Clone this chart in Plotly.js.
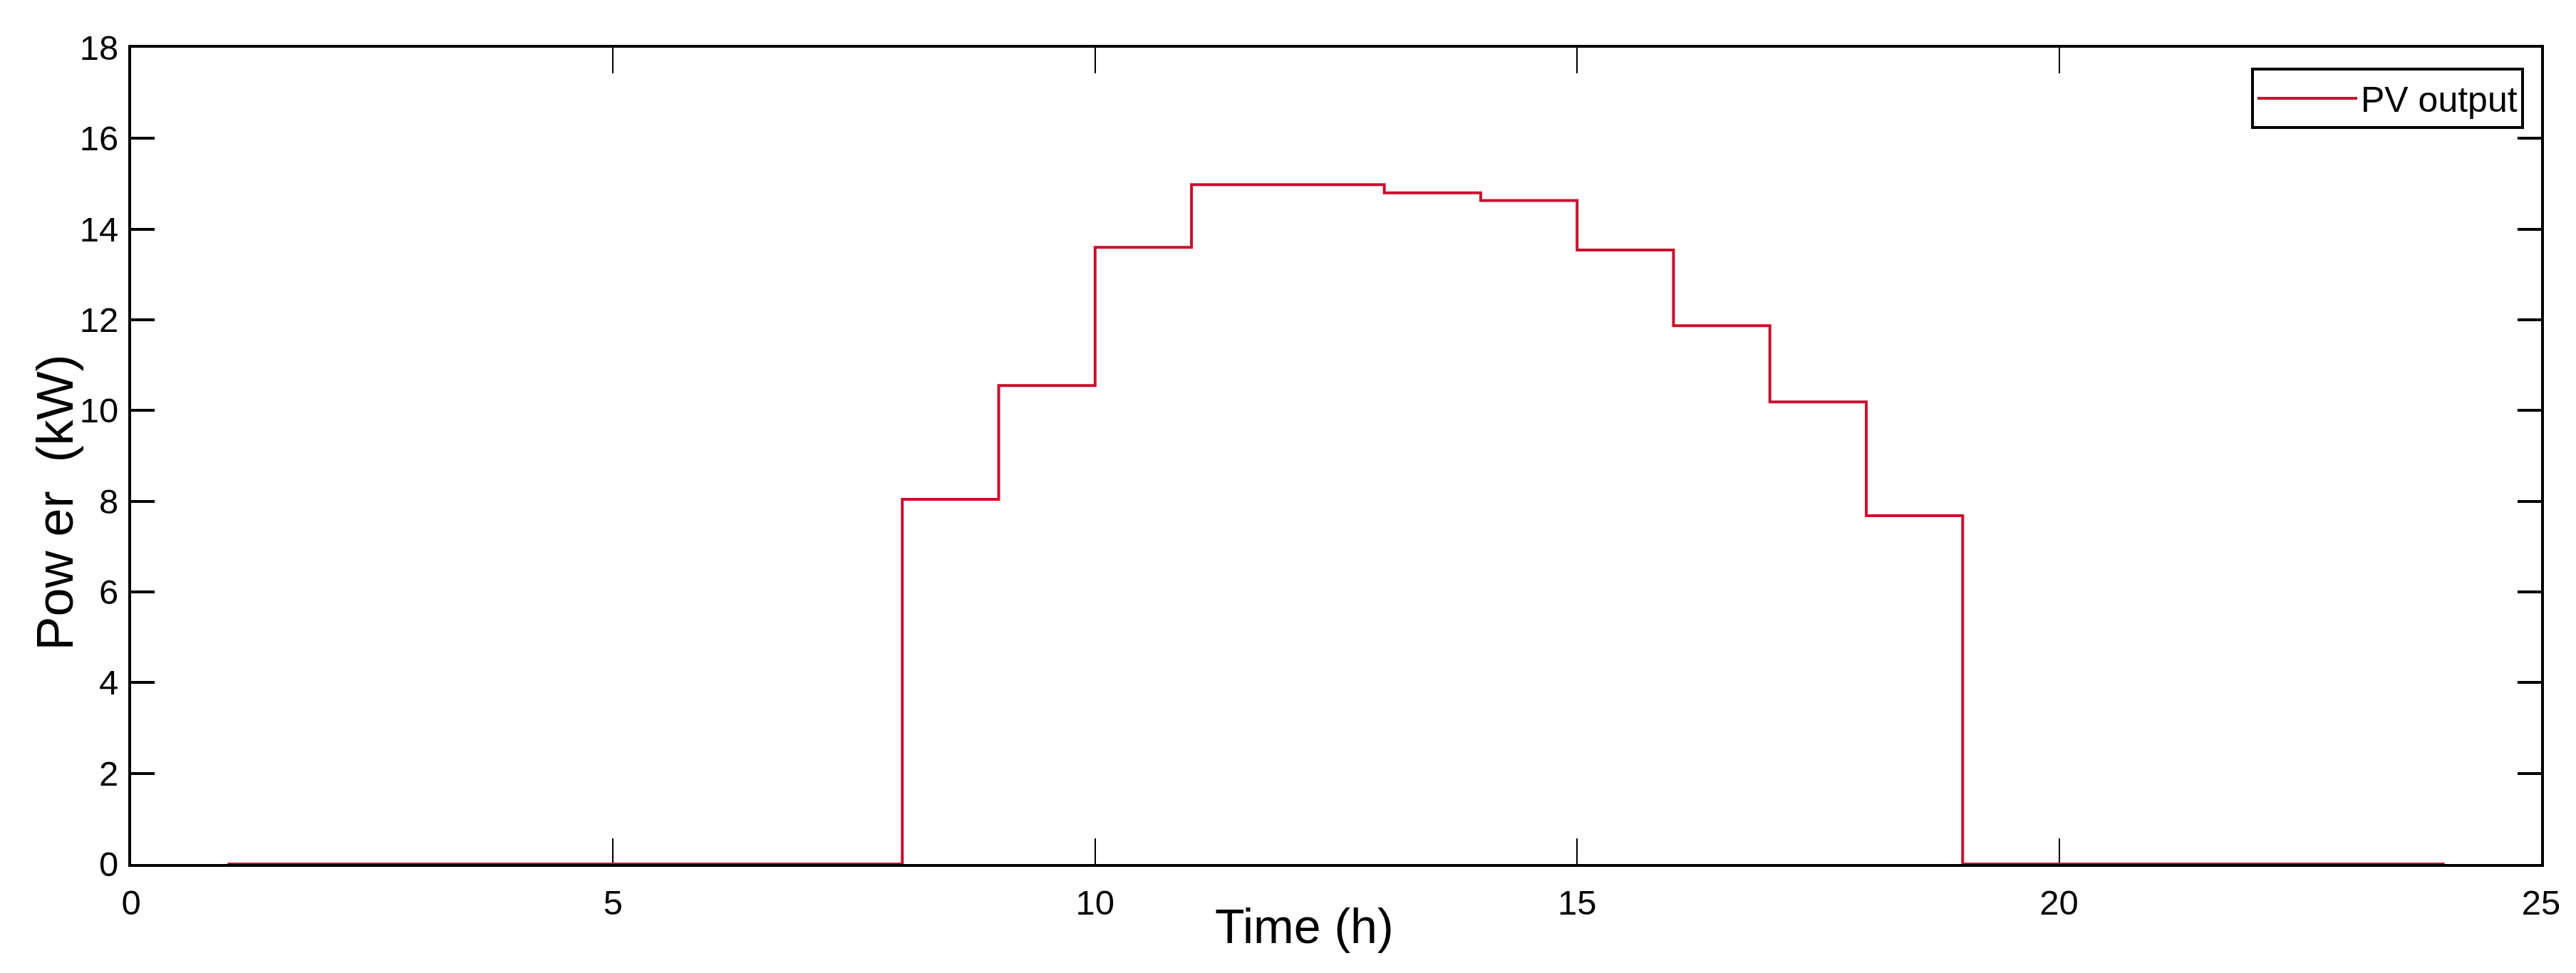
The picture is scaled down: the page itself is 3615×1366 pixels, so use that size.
<!DOCTYPE html>
<html>
<head>
<meta charset="utf-8">
<script src="https://cdn.plot.ly/plotly-3.0.1.min.js"></script>
<style>
  html, body { margin: 0; padding: 0; background: #fff; }
  #target { width: 3615px; height: 1366px; }
</style>
</head>
<body>
<div id="target"></div>
<script>
(function(global) {
  // hour of day (start of each step) and PV power in kW
  var hours = [1, 2, 3, 4, 5, 6, 7, 8, 9, 10, 11, 12, 13, 14, 15, 16, 17, 18, 19, 20, 21, 22, 23, 24];
  var pvOutput = [0, 0, 0, 0, 0, 0, 0, 8.04, 10.55, 13.6, 14.98, 14.98, 14.8, 14.63, 13.54, 11.87, 10.19, 7.68, 0, 0, 0, 0, 0, 0];
  var xTicks = [0, 5, 10, 15, 20, 25];
  var yTicks = [0, 2, 4, 6, 8, 10, 12, 14, 16, 18];

  var fontFamily = 'Arial, "Liberation Sans", Helvetica, sans-serif';

  var trace = {
    x: hours,
    y: pvOutput,
    name: 'PV output',
    type: 'scatter',
    mode: 'lines',
    line: {
      shape: 'hv',
      width: 4,
      color: '#c8102e'
    }
  };

  var axisCommon = {
    showline: true,
    linecolor: '#000',
    linewidth: 4,
    mirror: 'ticks',
    ticks: 'inside',
    tickcolor: '#000',
    showgrid: false,
    zeroline: false,
    fixedrange: true,
    layer: 'below traces',
    tickfont: { family: fontFamily, size: 49, color: '#000' }
  };

  var layout = {
    width: 3615,
    height: 1366,
    paper_bgcolor: '#fff',
    plot_bgcolor: '#fff',
    margin: { l: 184, r: 49, t: 67, b: 153 },
    showlegend: true,
    xaxis: Object.assign({}, axisCommon, {
      range: [0, 25],
      tickmode: 'array',
      tickvals: xTicks,
      ticktext: xTicks.map(String),
      ticklen: 36,
      tickwidth: 2,
      ticklabelstandoff: 8
    }),
    yaxis: Object.assign({}, axisCommon, {
      range: [0, 18],
      tickmode: 'array',
      tickvals: yTicks,
      ticktext: yTicks.map(String),
      ticklen: 33,
      tickwidth: 4,
      ticklabelstandoff: 4
    }),
    legend: {
      x: 0.9929,
      xanchor: 'right',
      y: 0.9756,
      yanchor: 'top',
      bgcolor: '#fff',
      bordercolor: '#000',
      borderwidth: 4,
      itemwidth: 140,
      font: { family: fontFamily, size: 50, color: '#000' }
    },
    annotations: [
      {
        text: 'Time (h)',
        xref: 'paper', yref: 'paper',
        x: 0.4867, y: -0.0759,
        xanchor: 'center', yanchor: 'middle',
        showarrow: false,
        font: { family: fontFamily, size: 68, color: '#000' }
      },
      {
        text: 'Pow er\u00a0\u00a0(kW)',
        xref: 'paper', yref: 'paper',
        x: -0.0316, y: 0.443,
        xanchor: 'center', yanchor: 'middle',
        textangle: -90,
        showarrow: false,
        font: { family: fontFamily, size: 72, color: '#000' }
      }
    ]
  };

  Plotly.newPlot('target', [trace], layout, { displayModeBar: false, staticPlot: true });
})(window);
</script>
</body>
</html>
